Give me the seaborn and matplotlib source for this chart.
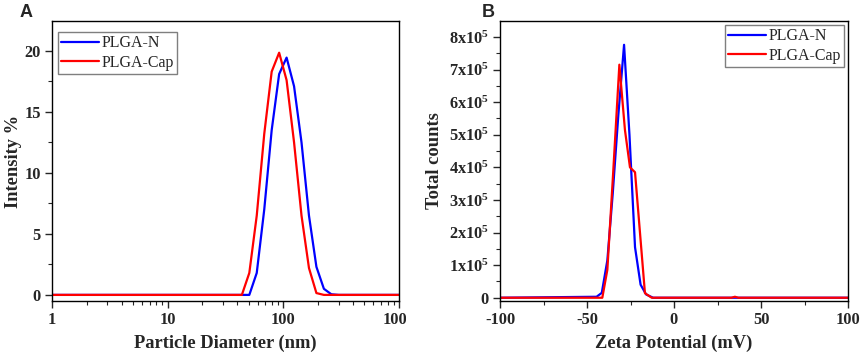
import numpy as np
import pandas as pd
import seaborn as sns
import matplotlib
matplotlib.use("Agg")
import matplotlib.pyplot as plt
from matplotlib.ticker import FixedLocator, MultipleLocator, LogLocator, NullFormatter
from matplotlib.transforms import Bbox

# ---------------- data ----------------
# Panel A: DLS size distribution (Intensity %)
size_n = [1, 50.8, 58.9, 68.4, 79.3, 92.0, 106.7, 123.8, 143.6, 166.6, 193.2, 224.2, 260.0, 301.7, 1000]
int_n = [0, 0, 1.8, 7.0, 13.5, 18.1, 19.45, 17.1, 12.5, 6.5, 2.3, 0.5, 0.05, 0, 0]
size_cap = [1, 43.8, 50.8, 58.9, 68.4, 79.3, 92.0, 106.7, 123.8, 143.6, 166.6, 193.2, 224.2, 1000]
int_cap = [0, 0, 1.8, 6.5, 13.2, 18.3, 19.85, 17.6, 12.5, 6.5, 2.2, 0.15, 0, 0]

# Panel B: zeta potential distribution (Total counts)
zeta_n = [-100, -44.5, -41.5, -38.3, -35.2, -32.0, -28.7, -25.6, -22.4, -19.2, -16.0, -12.0, 100]
counts_n = [0, 3e3, 1.5e4, 1.15e5, 3.2e5, 5.6e5, 7.76e5, 5.0e5, 1.55e5, 4.0e4, 1.0e4, 0, 0]
zeta_cap = [-100, -41.2, -38.3, -35.0, -31.4, -28.2, -25.3, -22.4, -16.7, -12.8, 33.0, 35.0, 37.0, 100]
counts_cap = [0, 0, 8.6e4, 3.8e5, 7.15e5, 5.15e5, 4.0e5, 3.85e5, 1.4e4, 0, 0, 3e3, 0, 0]

series_names = ["PLGA-N", "PLGA-Cap"]
palette = {"PLGA-N": "#0000FF", "PLGA-Cap": "#FF0000"}

size_x_ticks = [1, 10, 100, 1000]
size_x_labels = ["1", "10", "100", "1000"]
size_y_ticks = [0, 5, 10, 15, 20]
zeta_x_ticks = [-100, -50, 0, 50, 100]
zeta_y_ticks = [0, 1e5, 2e5, 3e5, 4e5, 5e5, 6e5, 7e5, 8e5]

df_a = pd.concat([
    pd.DataFrame({"x": size_n, "y": int_n, "Sample": series_names[0]}),
    pd.DataFrame({"x": size_cap, "y": int_cap, "Sample": series_names[1]}),
], ignore_index=True)
df_b = pd.concat([
    pd.DataFrame({"x": zeta_n, "y": counts_n, "Sample": series_names[0]}),
    pd.DataFrame({"x": zeta_cap, "y": counts_cap, "Sample": series_names[1]}),
], ignore_index=True)

# ---------------- style ----------------
sns.set_style("ticks")
plt.rcParams["font.family"] = ["Liberation Serif", "DejaVu Serif"]
plt.rcParams["axes.unicode_minus"] = False
plt.rcParams["mathtext.default"] = "regular"

fig = plt.figure(figsize=(8.65, 3.56), dpi=100)
W, H = 865, 356
axA = fig.add_axes([52 / W, 1 - 301 / H, 347 / W, 280 / H])
axB = fig.add_axes([500 / W, 1 - 301 / H, 348 / W, 280 / H])

tick_fs = 11.8
label_fs = 13.3

for ax, df in ((axA, df_a), (axB, df_b)):
    sns.lineplot(data=df, x="x", y="y", hue="Sample", hue_order=series_names,
                 palette=palette, estimator=None, sort=False, linewidth=1.6, ax=ax)
    for s in ax.spines.values():
        s.set_visible(True)
        s.set_linewidth(1.0)
        s.set_color("black")
    ax.tick_params(axis="both", which="major", direction="out", length=5, width=1.0,
                   labelsize=tick_fs, top=False, right=False, pad=3)
    ax.tick_params(axis="both", which="minor", direction="out", length=3, width=0.8,
                   top=False, right=False)

# Panel A axes
axA.set_xscale("log")
axA.set_xlim(1, 1000)
axA.set_ylim(-0.5, 22.45)
axA.xaxis.set_major_locator(FixedLocator(size_x_ticks))
axA.set_xticklabels(size_x_labels, fontweight="bold", fontsize=tick_fs)
axA.xaxis.set_minor_locator(LogLocator(base=10, subs=np.arange(2, 10)))
axA.xaxis.set_minor_formatter(NullFormatter())
axA.yaxis.set_major_locator(FixedLocator(size_y_ticks))
axA.set_yticklabels([str(v) for v in size_y_ticks], fontweight="bold", fontsize=tick_fs)
axA.yaxis.set_minor_locator(MultipleLocator(2.5))
axA.set_xlabel("Particle Diameter (nm)", fontsize=label_fs, fontweight="bold", labelpad=5)
axA.set_ylabel("Intensity %", fontsize=label_fs, fontweight="bold", labelpad=1.5)

# Panel B axes
axB.set_xlim(-100, 100)
axB.set_ylim(-1e4, 8.49e5)
axB.xaxis.set_major_locator(FixedLocator(zeta_x_ticks))
axB.set_xticklabels([str(v) for v in zeta_x_ticks], fontweight="bold", fontsize=tick_fs)
axB.xaxis.set_minor_locator(MultipleLocator(25))
axB.yaxis.set_major_locator(FixedLocator(zeta_y_ticks))
axB.set_yticklabels(["0"] + [f"{int(v / 1e5)}x10$^{{5}}$" for v in zeta_y_ticks[1:]],
                    fontweight="bold", fontsize=tick_fs)
axB.yaxis.set_minor_locator(MultipleLocator(0.5e5))
axB.set_xlabel("Zeta Potential (mV)", fontsize=label_fs, fontweight="bold", labelpad=5)
axB.set_ylabel("Total counts", fontsize=label_fs, fontweight="bold", labelpad=4)

# Legends (positions in figure pixels, matching the reference boxes)
leg_boxes = {axA: (58, 32), axB: (725, 25)}
for ax in (axA, axB):
    handles, labels = ax.get_legend_handles_labels()
    x0, y0 = leg_boxes[ax]
    leg = ax.legend(handles, labels, loc="upper left",
                    bbox_to_anchor=(x0 / W, 1 - y0 / H), bbox_transform=fig.transFigure,
                    fontsize=11.5, frameon=True, fancybox=False, edgecolor="#7f7f7f",
                    framealpha=1, handlelength=2.35, handletextpad=0.2, labelspacing=0.22,
                    borderpad=0.2, borderaxespad=0.0, title=None)
    leg.get_frame().set_linewidth(1.0)
    for line in leg.get_lines():
        line.set_linewidth(1.6)

# Panel letters
fig.text(20 / W, 1 - 17 / H, "A", fontsize=13, fontweight="bold", family="Liberation Sans")
fig.text(482 / W, 1 - 17 / H, "B", fontsize=13, fontweight="bold", family="Liberation Sans")

# The rightmost tick label of panel A is cut off in the reference
last = axA.get_xticklabels()[-1]
last.set_clip_on(True)
last.set_clip_box(Bbox.from_extents(0, 0, 406, H))

fig.savefig("out.png", dpi=100)
